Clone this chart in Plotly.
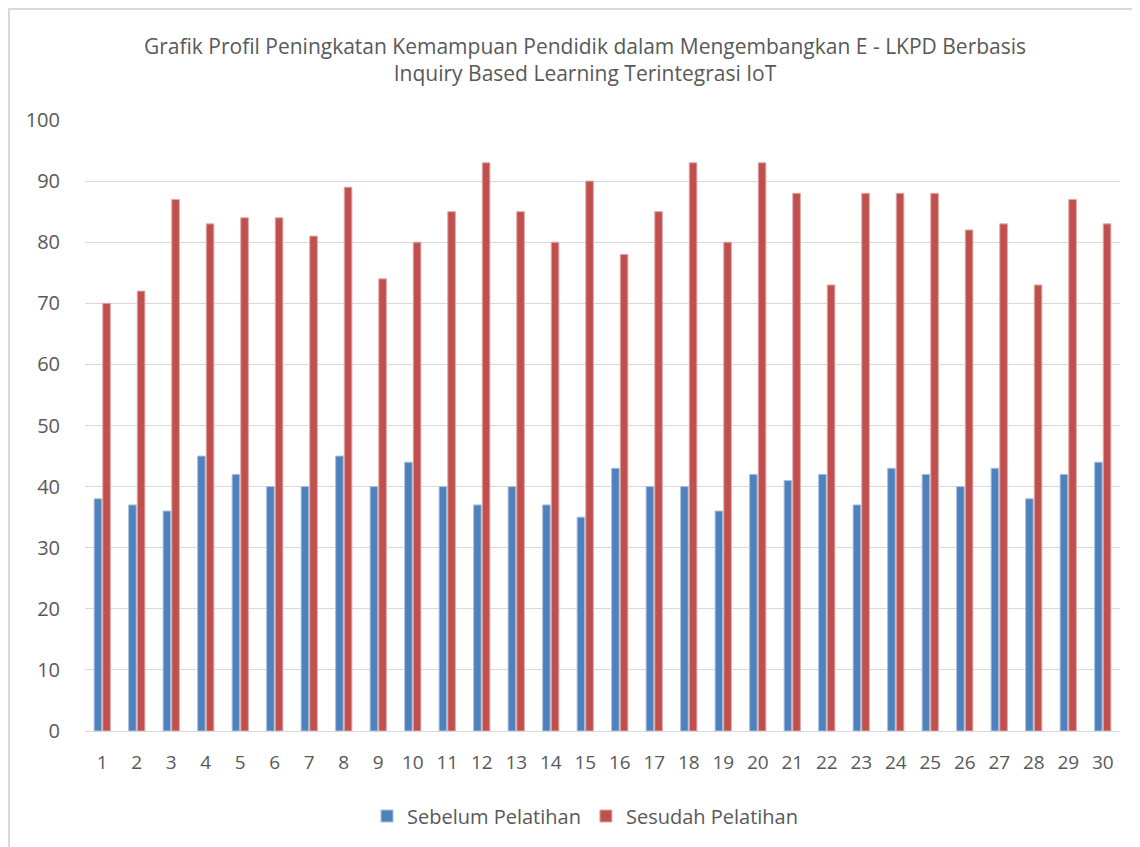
import plotly.graph_objects as go

categories = [str(i) for i in range(1, 31)]
sebelum = [38, 37, 36, 45, 42, 40, 40, 45, 40, 44, 40, 37, 40, 37, 35,
           43, 40, 40, 36, 42, 41, 42, 37, 43, 42, 40, 43, 38, 42, 44]
sesudah = [70, 72, 87, 83, 84, 84, 81, 89, 74, 80, 85, 93, 85, 80, 90,
           78, 85, 93, 80, 93, 88, 73, 88, 88, 88, 82, 83, 73, 87, 83]
y_ticks = [0, 10, 20, 30, 40, 50, 60, 70, 80, 90, 100]

FONT = "Open Sans"

# plot area in page pixels: x 85..1120, y 120..731 ; page offset 8px (body margin)
L, R, T, B = 77, 28, 112, 124
pw = 1140 - L - R
ph = 847 - T - B

def px_x(x):
    return (x - 8 - L) / pw

def px_y(y):
    return 1 - (y - 8 - T) / ph

fig = go.Figure()
fig.add_trace(go.Bar(x=categories, y=sebelum, name="Sebelum Pelatihan",
                     marker=dict(color="#4F81BD", line=dict(color="#A7C0DE", width=1))))
fig.add_trace(go.Bar(x=categories, y=sesudah, name="Sesudah Pelatihan",
                     marker=dict(color="#C0504D", line=dict(color="#E0A7A6", width=1))))

fig.update_layout(
    width=1140, height=847,
    margin=dict(l=L, r=R, t=T, b=B),
    paper_bgcolor="white", plot_bgcolor="white",
    barmode="group", bargap=0.5, bargroupgap=0.12,
    font=dict(family=FONT, color="#595959"),
    title=dict(text="Grafik Profil Peningkatan Kemampuan Pendidik dalam Mengembangkan E - LKPD Berbasis<br>Inquiry Based Learning Terintegrasi IoT",
               x=(585 - 8) / 1140, xanchor="center",
               y=1 - (54 - 8) / 847, yanchor="middle",
               font=dict(family=FONT, size=21, color="#595959")),
    xaxis=dict(showgrid=False, showline=True, linecolor="#D9D9D9", linewidth=1,
               ticks="outside", ticklen=14, tickcolor="rgba(0,0,0,0)",
               tickfont=dict(size=19, color="#595959")),
    yaxis=dict(range=[0, 100], tickvals=y_ticks, showgrid=True, gridcolor="#D9D9D9",
               gridwidth=1, zeroline=False, showline=False,
               ticks="outside", ticklen=20, tickcolor="rgba(0,0,0,0)",
               tickfont=dict(size=20, color="#595959")),
    legend=dict(orientation="h", x=px_x(585), xanchor="center", y=px_y(816), yanchor="middle",
                font=dict(size=20, color="#595959"), itemwidth=30),
    shapes=[dict(type="rect", xref="paper", yref="paper", x0=px_x(9), x1=px_x(1200),
                 y0=px_y(900), y1=px_y(9),
                 line=dict(color="#D9D9D9", width=2), layer="below")],
)
fig.write_html("out.html")
